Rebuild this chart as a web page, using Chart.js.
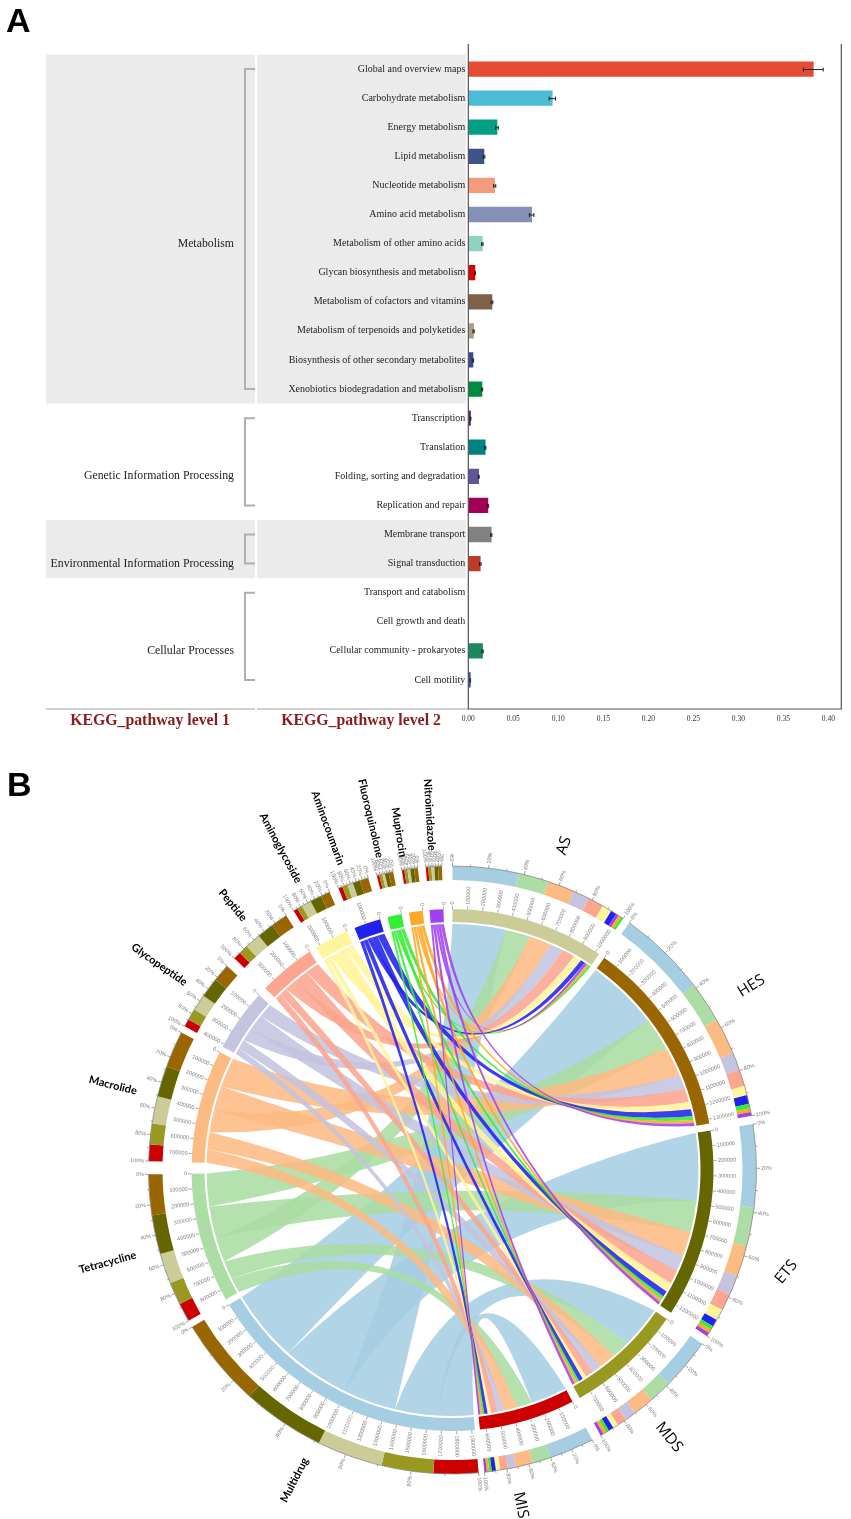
<!DOCTYPE html>
<html>
<head>
<meta charset="utf-8">
<style>
  body { margin: 0; background: #fff; }
  canvas { position: absolute; left: 0; }
  .tag { position: absolute; font: bold 34px "Liberation Sans", sans-serif; color: #000; line-height: 34px; }
</style>
<script src="https://cdn.jsdelivr.net/npm/chart.js@4"></script>
</head>
<body>
<canvas id="barChart" width="851" height="745" style="top:0"></canvas>
<canvas id="chordChart" width="851" height="774" style="top:745px"></canvas>
<div class="tag" style="left:6px;top:3px">A</div>
<div class="tag" style="left:7px;top:767px">B</div>
<script>
// panel A data
const pathways = ['Global and overview maps', 'Carbohydrate metabolism', 'Energy metabolism', 'Lipid metabolism',
  'Nucleotide metabolism', 'Amino acid metabolism', 'Metabolism of other amino acids', 'Glycan biosynthesis and metabolism',
  'Metabolism of cofactors and vitamins', 'Metabolism of terpenoids and polyketides', 'Biosynthesis of other secondary metabolites',
  'Xenobiotics biodegradation and metabolism', 'Transcription', 'Translation', 'Folding, sorting and degradation',
  'Replication and repair', 'Membrane transport', 'Signal transduction', 'Transport and catabolism', 'Cell growth and death',
  'Cellular community - prokaryotes', 'Cell motility'];
const abundance = [0.3833, 0.0933, 0.0319, 0.0174, 0.0293, 0.0704, 0.0156, 0.0074, 0.0263, 0.0059, 0.0052,
  0.0152, 0.0024, 0.0188, 0.0115, 0.0218, 0.0255, 0.0133, 0, 0, 0.0158, 0.0022];
const abundanceErr = [0.011, 0.0035, 0.0015, 0.001, 0.0012, 0.0025, 0.0008, 0.0005, 0.001, 0.0007, 0.0007,
  0.0008, 0.0005, 0.0008, 0.0006, 0.0008, 0.0007, 0.0009, 0, 0, 0.0008, 0.0003];
const barColors = ['#E64B35', '#4DBBD5', '#00A087', '#3C5488', '#F39B7F', '#8491B4', '#91D1C2', '#DC0000', '#7E6148', '#B09C85',
  '#3B4992', '#008B45', '#631879', '#008280', '#5F559B', '#A20056', '#808180', '#C0392B', 'rgba(0,0,0,0)', 'rgba(0,0,0,0)', '#1B8A5A', '#3B4992'];
const level1 = ['Metabolism', 'Genetic Information Processing', 'Environmental Information Processing', 'Cellular Processes'];
const level1Counts = [12, 4, 2, 4];
const level1Shaded = [true, false, true, false];

// panel B data, columns follow resistanceClasses
const sites = ['AS', 'HES', 'ETS', 'MDS', 'MIS'];
const resistanceClasses = ['Multidrug', 'Tetracycline', 'Macrolide', 'Glycopeptide', 'Peptide', 'Aminoglycoside',
  'Aminocoumarin', 'Fluoroquinolone', 'Mupirocin', 'Nitroimidazole'];
const asValues = [378000, 174000, 156000, 93000, 90000, 56000, 33000, 15000, 16000, 17000];
const hesValues = [512000, 234000, 210000, 102000, 96000, 54000, 50000, 26000, 22000, 22000];
const etsValues = [476000, 224000, 176000, 113000, 97000, 65000, 42000, 22000, 22000, 21000];
const mdsValues = [298000, 130000, 120000, 66000, 54000, 30000, 30000, 18000, 18000, 18000];
const misValues = [257000, 108000, 96000, 45000, 45000, 25000, 24000, 14000, 14000, 14000];
const siteColors = ['#CCCC99', '#996600', '#666600', '#999922', '#CC0000'];
const classColors = ['#A6CEE3', '#ABDDA4', '#FDBB84', '#C4C4E0', '#FCA590', '#FFF59B', '#2222EE', '#33EE33', '#FFA726', '#A040F0'];
// blank stretch after each sector, clockwise
const sectorGaps = [42000, 48000, 51000, 54000, 33000, 40000, 75000, 40000, 60000, 50000, 55000, 50000, 50000, 45000, 60000];

const matrix = [asValues, hesValues, etsValues, mdsValues, misValues];
const sum = a => a.reduce((p, c) => p + c, 0);
const siteTotals = matrix.map(sum);
const classTotals = resistanceClasses.map((_, j) => sum(matrix.map(r => r[j])));

Chart.defaults.animation = false;
Chart.defaults.plugins.legend.display = false;
Chart.defaults.plugins.tooltip.enabled = false;

// panel A
const serif = '"Liberation Serif", serif';
const panelA = {
  id: 'panelA',
  beforeDraw(chart) {
    const ctx = chart.ctx, y = chart.scales.y;
    const band = y.getPixelForValue(1) - y.getPixelForValue(0);
    let start = 0;
    level1.forEach((name, i) => {
      const n = level1Counts[i];
      if (level1Shaded[i]) {
        const top = y.getPixelForValue(start) - band / 2;
        ctx.fillStyle = '#EBEBEB';
        ctx.fillRect(46, top, 209, band * n);
        ctx.fillRect(257, top, 209, band * n);
      }
      start += n;
    });
  },
  beforeDatasetsDraw(chart) {
    const ctx = chart.ctx, y = chart.scales.y;
    let start = 0;
    level1.forEach((name, i) => {
      const n = level1Counts[i];
      const first = y.getPixelForValue(start), last = y.getPixelForValue(start + n - 1);
      ctx.strokeStyle = '#B0B0B0';
      ctx.lineWidth = 2;
      ctx.beginPath();
      ctx.moveTo(255, first); ctx.lineTo(245, first); ctx.lineTo(245, last); ctx.lineTo(255, last);
      ctx.stroke();
      ctx.fillStyle = '#222';
      ctx.font = '11.8px ' + serif;
      ctx.textAlign = 'right';
      ctx.textBaseline = 'middle';
      ctx.fillText(name, 234, y.getPixelForValue(start + Math.floor(n / 2)));
      start += n;
    });
    ctx.fillStyle = '#8B1A1A';
    ctx.font = 'bold 15.8px ' + serif;
    ctx.textAlign = 'center';
    ctx.fillText('KEGG_pathway level 1', 150, 721);
    ctx.fillText('KEGG_pathway level 2', 361, 721);
  },
  afterDatasetsDraw(chart) {
    const ctx = chart.ctx, x = chart.scales.x, y = chart.scales.y, area = chart.chartArea;
    // frame
    ctx.strokeStyle = '#A0A0A0';
    ctx.lineWidth = 1;
    ctx.beginPath();
    ctx.moveTo(46, 709); ctx.lineTo(255, 709); ctx.moveTo(257, 709); ctx.lineTo(area.left, 709);
    ctx.stroke();
    ctx.strokeStyle = '#555';
    ctx.lineWidth = 1.2;
    ctx.beginPath();
    ctx.moveTo(area.left, 44); ctx.lineTo(area.left, 709); ctx.lineTo(area.right, 709); ctx.lineTo(area.right, 44);
    ctx.stroke();

    ctx.strokeStyle = '#222';
    ctx.lineWidth = 1;
    abundance.forEach((v, i) => {
      if (!abundanceErr[i]) return;
      const lo = x.getPixelForValue(v - abundanceErr[i]), hi = x.getPixelForValue(v + abundanceErr[i]), py = y.getPixelForValue(i) + 0.5;
      ctx.beginPath();
      ctx.moveTo(lo, py); ctx.lineTo(hi, py);
      ctx.moveTo(lo, py - 2); ctx.lineTo(lo, py + 2);
      ctx.moveTo(hi, py - 2); ctx.lineTo(hi, py + 2);
      ctx.stroke();
    });
  }
};

new Chart(document.getElementById('barChart'), {
  type: 'bar',
  data: {
    labels: pathways,
    datasets: [{ data: abundance, backgroundColor: barColors, barThickness: 14.6 }]
  },
  options: {
    indexAxis: 'y',
    responsive: false,
    layout: { padding: { top: 54.5, right: 9.7 } },
    scales: {
      x: {
        min: 0, max: 0.4144,
        grid: { display: false, tickLength: 0 }, border: { display: false },
        afterFit: s => { s.height = 50.5; s.paddingRight = 0; },
        ticks: {
          stepSize: 0.05, includeBounds: false, maxRotation: 0, padding: 20, color: '#333',
          font: { family: serif, size: 7.5 },
          callback: v => v.toFixed(2)
        }
      },
      y: {
        grid: { display: false, tickLength: 0 }, border: { display: false },
        afterFit: s => { s.width = 468.3; },
        ticks: { autoSkip: false, padding: 3, color: '#222', font: { family: serif, size: 10 } }
      }
    }
  },
  plugins: [panelA]
});

// panel B
// going anticlockwise from a class's zero end: HES, ETS, AS, MDS, MIS
const classSiteOrder = [1, 2, 0, 3, 4];
// the slices run clockwise from the top: sites first, then classes
const sectorNames = sites.concat(resistanceClasses);
const sectorTotals = siteTotals.concat(classTotals);
const innerData = [], innerColors = [], outerData = [], outerColors = [];
const siteOrder = matrix.map(r => r.map((v, j) => j).sort((a, b) => r[b] - r[a]));
sectorTotals.forEach((t, i) => {
  innerData.push(t, sectorGaps[i]);
  if (i < sites.length) {
    innerColors.push(siteColors[i], 'rgba(0,0,0,0)');
    siteOrder[i].forEach(j => { outerData.push(matrix[i][j]); outerColors.push(classColors[j]); });
  } else {
    const j = i - sites.length;
    innerColors.push(classColors[j], 'rgba(0,0,0,0)');
    classSiteOrder.slice().reverse().forEach(s => { outerData.push(matrix[s][j]); outerColors.push(siteColors[s]); });
  }
  outerData.push(sectorGaps[i]);
  outerColors.push('rgba(0,0,0,0)');
});

const labelAngle = [19, 58.4, 107, 141, 168.5, 207, 255, 284, 305, 320.3, 331.9, 340, 346.9, 351, 356.3];
const labelRadius = [343, 351, 349, 344, 342, 348, 357, 350, 358, 344, 365, 364, 361, 342, 356];
const labelRotation = [null, null, -50, null, null, null, null, null, null, null, null, null, null, null, null];

function radialText(ctx, cx, cy, deg, r, text) {
  const rad = (deg - 90) * Math.PI / 180;
  ctx.save();
  ctx.translate(cx + r * Math.cos(rad), cy + r * Math.sin(rad));
  if (deg > 180) { ctx.rotate((deg + 90) * Math.PI / 180); ctx.textAlign = 'right'; }
  else { ctx.rotate((deg - 90) * Math.PI / 180); ctx.textAlign = 'left'; }
  ctx.textBaseline = 'middle';
  ctx.fillText(text, 0, 0);
  ctx.restore();
}

function ribbon(ctx, cx, cy, R, a0, a1, b0, b1, k) {
  const pt = a => [R * Math.cos(a), R * Math.sin(a)];
  const ctrl = (p, q) => [cx + k * (p[0] + q[0]) / 2, cy + k * (p[1] + q[1]) / 2];
  const c1 = ctrl(pt(a1), pt(b0)), c2 = ctrl(pt(b1), pt(a0));
  ctx.beginPath();
  ctx.arc(cx, cy, R, a0, a1);
  ctx.quadraticCurveTo(c1[0], c1[1], cx + pt(b0)[0], cy + pt(b0)[1]);
  ctx.arc(cx, cy, R, b0, b1);
  ctx.quadraticCurveTo(c2[0], c2[1], cx + pt(a0)[0], cy + pt(a0)[1]);
  ctx.closePath();
  ctx.fill();
}

const panelB = {
  id: 'panelB',
  afterDatasetsDraw(chart) {
    const ctx = chart.ctx;
    const outerArcs = chart.getDatasetMeta(0).data, innerArcs = chart.getDatasetMeta(2).data;
    const cx = innerArcs[0].x, cy = innerArcs[0].y;
    const sector = i => innerArcs[i * 2];
    const ribbonR = innerArcs[0].innerRadius - 2, ringOut = innerArcs[0].outerRadius, rimR = outerArcs[0].outerRadius;
    const toDeg = a => a * 180 / Math.PI + 90;

    // ribbons: largest class goes down first, so the thin ones stay on top
    resistanceClasses.forEach((name, j) => {
      const cs = sector(sites.length + j);
      const perUnit = (cs.endAngle - cs.startAngle) / classTotals[j];
      let classPos = cs.endAngle;
      classSiteOrder.forEach(s => {
        const ss = sector(s);
        const unit = (ss.endAngle - ss.startAngle) / siteTotals[s];
        let offset = 0;
        for (const jj of siteOrder[s]) {
          if (jj === j) break;
          offset += matrix[s][jj];
        }
        const a0 = ss.startAngle + offset * unit, a1 = a0 + matrix[s][j] * unit;
        const b1 = classPos, b0 = classPos - matrix[s][j] * perUnit;
        classPos = b0;
        ctx.fillStyle = classColors[j];
        ctx.globalAlpha = 0.88;
        ribbon(ctx, cx, cy, ribbonR, a0, a1, b0, b1, 0.24);
        ctx.globalAlpha = 1;
      });
    });

    sectorNames.forEach((name, i) => {
      const arc = sector(i);
      const isClass = i >= sites.length;
      const total = sectorTotals[i];
      const span = arc.endAngle - arc.startAngle;
      const at = f => isClass ? arc.endAngle - f * span : arc.startAngle + f * span;

      // abundance ticks on the inner ring
      ctx.strokeStyle = '#888';
      ctx.fillStyle = '#808080';
      ctx.lineWidth = 0.7;
      ctx.font = '5.5px "Liberation Sans", sans-serif';
      for (let v = 0; v <= total; v += 100000) {
        const a = at(v / total);
        ctx.beginPath();
        ctx.moveTo(cx + ringOut * Math.cos(a), cy + ringOut * Math.sin(a));
        ctx.lineTo(cx + (ringOut + 3.5) * Math.cos(a), cy + (ringOut + 3.5) * Math.sin(a));
        ctx.stroke();
        radialText(ctx, cx, cy, toDeg(a), ringOut + 4.5, String(v));
      }

      // percent ticks on the outer ring
      ctx.strokeStyle = '#8A8A8A';
      ctx.lineWidth = 0.8;
      ctx.beginPath();
      ctx.arc(cx, cy, rimR, arc.startAngle, arc.endAngle);
      ctx.stroke();
      for (let p = 0; p <= 100; p += 10) {
        const a = at(p / 100);
        const major = p % 20 === 0;
        const len = major ? 3.5 : 2;
        ctx.beginPath();
        ctx.moveTo(cx + rimR * Math.cos(a), cy + rimR * Math.sin(a));
        ctx.lineTo(cx + (rimR + len) * Math.cos(a), cy + (rimR + len) * Math.sin(a));
        ctx.stroke();
        if (major) radialText(ctx, cx, cy, toDeg(a), rimR + 4.5, p + '%');
      }

      // sector name
      ctx.fillStyle = '#000';
      ctx.font = isClass ? 'bold 11px Lato, sans-serif' : '15.5px "Open Sans", sans-serif';
      const deg = labelAngle[i], rad = (deg - 90) * Math.PI / 180;
      ctx.save();
      ctx.translate(cx + labelRadius[i] * Math.cos(rad), cy + labelRadius[i] * Math.sin(rad));
      const rot = labelRotation[i] !== null ? labelRotation[i] : (deg > 180 ? deg + 90 : deg - 90);
      ctx.rotate(rot * Math.PI / 180);
      ctx.textAlign = 'center';
      ctx.textBaseline = 'middle';
      ctx.fillText(name, 0, 0);
      ctx.restore();
    });
  }
};

new Chart(document.getElementById('chordChart'), {
  type: 'doughnut',
  data: {
    datasets: [
      { data: outerData, backgroundColor: outerColors, borderWidth: 0, weight: 14 },
      { data: [1], backgroundColor: 'rgba(0,0,0,0)', borderWidth: 0, weight: 29 },
      { data: innerData, backgroundColor: innerColors, borderWidth: 0, weight: 13 }
    ]
  },
  options: {
    responsive: false,
    radius: 304,
    cutout: 248,
    layout: { padding: { left: 148.5, right: 94.5, top: 121, bottom: 45 } }
  },
  plugins: [panelB]
});
</script>
</body>
</html>
